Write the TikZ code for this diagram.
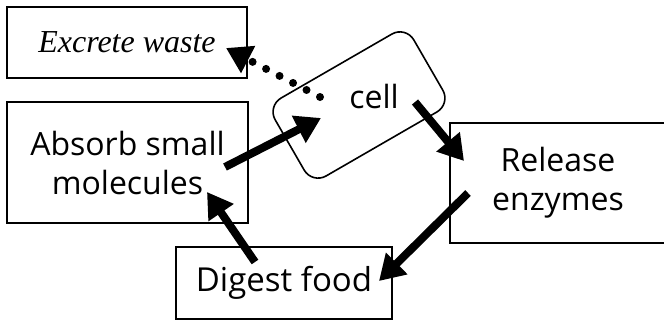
\documentclass[tikz,border=0pt]{standalone}
\usepackage{fontspec}
\setmainfont{Open Sans}
\newfontfamily\serifit{Liberation Serif}
\usetikzlibrary{arrows.meta,calc}

\tikzset{
  stage/.style={draw, line width=1pt, inner sep=0pt, align=center,
    font=\fontsize{16}{19.5}\selectfont},
  fatarrow/.style={line width=4pt, -{Triangle[length=12.5pt,width=14.5pt]}},
  dotarrow/.style={line width=4pt, line cap=round, dash pattern=on 0pt off 7.6pt,
    -{Triangle[length=12.5pt,width=14.5pt]}},
}

\begin{document}
\begin{tikzpicture}[x=0.5pt,y=-0.5pt]
\useasboundingbox (0,0) rectangle (664,322);
\clip (0,0) rectangle (664,322);

% process boxes
\node[stage, line width=0.8pt, minimum width=120pt, minimum height=35.5pt,
  font=\serifit\itshape\fontsize{16}{18}\selectfont] (excrete) at (127,42.5) {Excrete waste};
\node[stage, minimum width=120.5pt, minimum height=60.5pt] (absorb) at (127.5,162.5) {Absorb small\\molecules};
\node[stage, minimum width=108pt, minimum height=60pt] (release) at (558,183) {Release\\enzymes};
\node[stage, minimum width=108pt, minimum height=36pt, font=\fontsize{16.5}{19}\selectfont] (digest) at (284,283) {Digest food};

% the cell: a tilted rounded box with an upright label
\node[draw, line width=0.8pt, rounded corners=8pt, minimum width=80pt, minimum height=45pt,
  rotate=30] (cellbox) at (359,105) {};
\node[font=\fontsize{16}{18}\selectfont] (cell) at (374,96) {cell};

% arrow end points
\coordinate (dotstart) at (320,97);
\coordinate (dotend) at (226,48);
\coordinate (absorbout) at (225,167);
\coordinate (cellin) at (321,118);
\coordinate (cellout) at (415,102);
\coordinate (releasein) at (464,161);
\coordinate (releaseout) at (468,193);
\coordinate (digestin) at (379,281);
\coordinate (digestout) at (255,262);
\coordinate (absorbin) at (207,192);

% arrows of the cycle
\draw[dotarrow] (dotstart) -- (dotend);
\draw[fatarrow] (absorbout) -- (cellin);
\draw[fatarrow] (cellout) -- (releasein);
\draw[fatarrow] (releaseout) -- (digestin);
\draw[fatarrow] (digestout) -- (absorbin);
\end{tikzpicture}
\end{document}
